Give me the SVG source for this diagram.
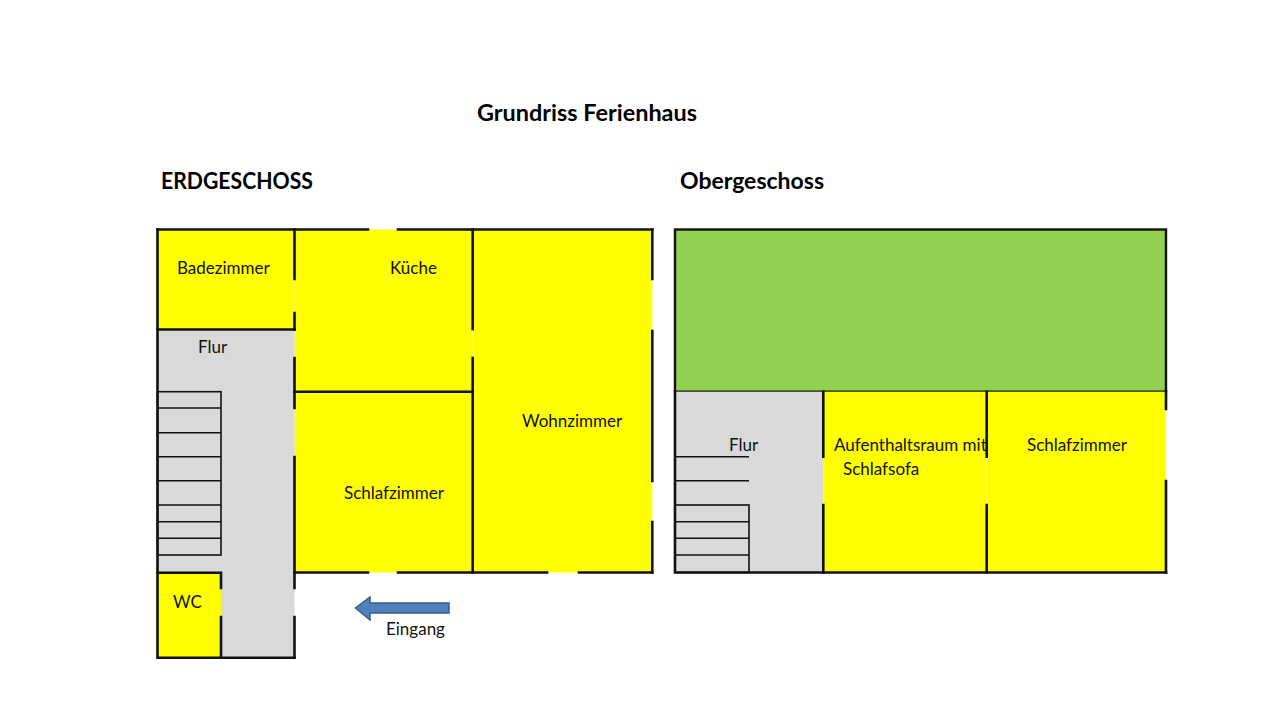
<svg xmlns="http://www.w3.org/2000/svg" width="1280" height="720" viewBox="0 0 1280 720">
<style>
  .bg { fill: #ffffff; }
  .yellow { fill: #FFFF00; }
  .gray { fill: #D9D9D9; }
  .green { fill: #92D050; stroke: #111; stroke-width: 2.4; }
  .wall { stroke: #111; stroke-width: 2.6; fill: none; stroke-linecap: square; }
  .step { stroke: #111; stroke-width: 1.6; fill: none; }
  .lbl { font-family: Lato, "Liberation Sans", sans-serif; font-size: 17px; fill: #111; }
  .head { font-family: Lato, "Liberation Sans", sans-serif; font-size: 23px; font-weight: bold; fill: #000; }
  .arrow { fill: #4F81BD; stroke: #385D8A; stroke-width: 1.5; }
</style>
<rect class="bg" x="0" y="0" width="1280" height="720"/>

<g id="titles">
  <text class="head" x="477" y="121" textLength="220" lengthAdjust="spacingAndGlyphs">Grundriss Ferienhaus</text>
  <text class="head" x="161" y="189" textLength="152" lengthAdjust="spacingAndGlyphs">ERDGESCHOSS</text>
  <text class="head" x="680" y="189">Obergeschoss</text>
</g>

<!-- Erdgeschoss rooms -->
<g id="eg-badezimmer">
  <rect class="yellow" x="157.5" y="229.5" width="137" height="100"/>
  <text class="lbl" x="177" y="274">Badezimmer</text>
</g>
<g id="eg-kueche">
  <rect class="yellow" x="294.5" y="229.5" width="178.2" height="162.2"/>
  <text class="lbl" x="390" y="274">Küche</text>
</g>
<g id="eg-schlafzimmer">
  <rect class="yellow" x="294.5" y="391.7" width="178.2" height="180.8"/>
  <text class="lbl" x="344" y="499">Schlafzimmer</text>
</g>
<g id="eg-wohnzimmer">
  <rect class="yellow" x="472.7" y="229.5" width="179.6" height="343"/>
  <text class="lbl" x="522" y="427">Wohnzimmer</text>
</g>
<g id="eg-flur">
  <polygon class="gray" points="157.5,329.5 294.5,329.5 294.5,657.7 221,657.7 221,572.7 157.5,572.7"/>
  <text class="lbl" x="198" y="353">Flur</text>
</g>
<g id="eg-wc">
  <rect class="yellow" x="157.5" y="572.7" width="63.5" height="85"/>
  <text class="lbl" x="173" y="608">WC</text>
</g>
<g id="eg-treppe">
  <rect class="step" x="157.5" y="391.7" width="63.5" height="163.3"/>
  <path class="step" d="M157.5 408H221M157.5 432.7H221M157.5 456.7H221M157.5 480.7H221M157.5 505H221M157.5 521.7H221M157.5 538.3H221"/>
</g>

<!-- Obergeschoss rooms -->
<g id="og-gruen">
  <rect class="green" x="675" y="229.5" width="491" height="162.2"/>
</g>
<g id="og-flur">
  <rect class="gray" x="675" y="391.7" width="148.3" height="180.8"/>
  <text class="lbl" x="729" y="451">Flur</text>
</g>
<g id="og-aufenthaltsraum">
  <rect class="yellow" x="823.3" y="391.7" width="163.4" height="180.8"/>
  <text class="lbl" x="834" y="451">Aufenthaltsraum mit</text>
  <text class="lbl" x="843" y="475">Schlafsofa</text>
</g>
<g id="og-schlafzimmer">
  <rect class="yellow" x="986.7" y="391.7" width="179.3" height="180.8"/>
  <text class="lbl" x="1027" y="451">Schlafzimmer</text>
</g>
<g id="og-treppe">
  <path class="step" d="M675 456.7H749M675 480.7H749"/>
  <rect class="step" x="675" y="505" width="74" height="67.5"/>
  <path class="step" d="M675 521.7H749M675 538.3H749M675 555H749"/>
</g>

<!-- walls -->
<g id="walls">
  <path class="wall" d="M157.5 229.5H368M398 229.5H652.3"/>
  <path class="wall" d="M157.5 229.5V657.7H294.5"/>
  <path class="wall" d="M294.5 229.5V279M294.5 313V329.5M294.5 358V408M294.5 457V588M294.5 617V657.7"/>
  <path class="wall" d="M157.5 329.5H294.5"/>
  <path class="wall" d="M294.5 391.7H472.7"/>
  <path class="wall" d="M472.7 229.5V329M472.7 358V572.5"/>
  <path class="wall" d="M294.5 572.5H368M398 572.5H547M579 572.5H652.3"/>
  <path class="wall" d="M652.3 229.5V279M652.3 331V481M652.3 522V572.5"/>
  <path class="wall" d="M157.5 572.7H221M221 572.7V588M221 617V657.7"/>
  <path class="wall" d="M675 391.7V572.5H1166"/>
  <path class="wall" d="M1166 391.7V409M1166 481V572.5"/>
  <path class="wall" d="M823.3 391.7V456.7M823.3 505V572.5"/>
  <path class="wall" d="M986.7 391.7V456.7M986.7 505V572.5"/>
</g>

<g id="connectors">
  <g id="eingang">
    <polygon class="arrow" points="449,603 370,603 370,597 355.5,608 370,620 370,613 449,613"/>
    <text class="lbl" x="386" y="635">Eingang</text>
  </g>
</g>
</svg>
